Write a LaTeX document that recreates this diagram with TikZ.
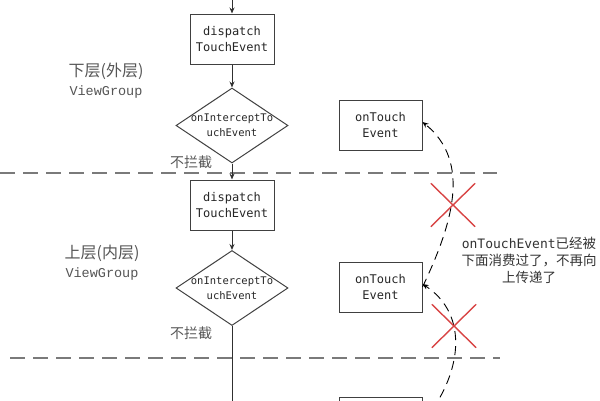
\documentclass[tikz,border=0pt]{standalone}
\usepackage{fontspec}
\newfontfamily\cjk{Noto Sans CJK SC}
\newfontfamily\mono{DejaVu Sans Mono}
\newfontfamily\vg{Liberation Mono}
\usetikzlibrary{shapes.geometric,shapes.misc,arrows.meta}
\definecolor{boxc}{HTML}{404040}
\definecolor{linec}{HTML}{303030}
\definecolor{sepc}{HTML}{7A7A7A}
\definecolor{xred}{HTML}{D84444}
\definecolor{labc}{HTML}{555555}
\begin{document}
\begin{tikzpicture}[x=1pt,y=-1pt,
  box/.style={draw=boxc, line width=1pt, minimum width=84pt, minimum height=50pt, inner sep=0pt, align=center, font=\mono\fontsize{12}{16.5}\selectfont, text=black!85},
  tbox/.style={box, minimum width=83pt},
  dia/.style={draw=boxc, line width=1pt, diamond, minimum width=112pt, minimum height=75pt, inner sep=0pt},
  dlab/.style={align=center, font=\mono\fontsize{10.5}{15}\selectfont, text=black!85},
  flow/.style={draw=linec, line width=1pt, -{Stealth[length=6pt,width=5pt]}},
  plain/.style={draw=linec, line width=1pt},
  sep/.style={draw=sepc, line width=1.5pt, dash pattern=on 15pt off 8pt},
  back/.style={draw=black, line width=0.9pt, dash pattern=on 9pt off 6pt, -{Stealth[length=6pt,width=5pt]}},
  xmark/.style={cross out, draw=xred, line width=1.4pt, minimum width=43pt, minimum height=42pt, inner sep=0pt},
  layer/.style={align=center, text=labc, font=\cjk\fontsize{16}{19}\selectfont},
  nolab/.style={text=labc, font=\cjk\fontsize{14}{16}\selectfont},
  note/.style={align=center, text=black!80, font=\cjk\fontsize{13.5}{17}\selectfont}
]
\useasboundingbox (0,0) rectangle (600,400);
\clip (0,0) rectangle (600,400);

% separators
\draw[sep] (0,173) -- (497,173);
\draw[sep] (10,358) -- (500,358);

% left column
\coordinate (top) at (232,-2);
\node[box] (b1) at (232,39) {dispatch\\TouchEvent};
\node[dia] (d1) at (232,125.5) {};
\node[dlab] (d1t) at (232,125.5) {onInterceptTo\\uchEvent};
\node[box] (b2) at (232,205) {dispatch\\TouchEvent};
\node[dia] (d2) at (232,288) {};
\node[dlab] (d2t) at (232,288) {onInterceptTo\\uchEvent};
\coordinate (bot) at (232,404);

\draw[flow] (top) -- (b1.north);
\draw[flow] (b1.south) -- (d1.north);
\draw[flow] (d1.south) -- (b2.north);
\draw[flow] (b2.south) -- (d2.north);
\draw[plain] (d2.south) -- (bot);

% labels
\node[layer] (l1) at (106,80.5) {下层(外层)\\{\vg\fontsize{13.5}{19}\selectfont ViewGroup}};
\node[layer] (l2) at (102,262.5) {上层(内层)\\{\vg\fontsize{13.5}{19}\selectfont ViewGroup}};
\node[nolab] (n1) at (191,162) {不拦截};
\node[nolab] (n2) at (191,333) {不拦截};

% right column
\node[tbox] (o1) at (380.5,125) {onTouch\\Event};
\node[tbox] (o2) at (380.5,287) {onTouch\\Event};
\node[tbox] (o3) at (381,422) {};

\draw[back] (o3.east) .. controls (462,375) and (470,315) .. ([yshift=3pt]o2.east);
\draw[back] (o2.east) .. controls (452,225) and (472,162) .. ([yshift=3pt]o1.east);

\node[xmark] (x1) at (453,205) {};
\node[xmark] (x2) at (454,326) {};

\node[note] (nt) at (529,260) {{\mono\fontsize{13}{17}\selectfont onTouchEvent}已经被\\下面消费过了，不再向\\上传递了};
\end{tikzpicture}
\end{document}
